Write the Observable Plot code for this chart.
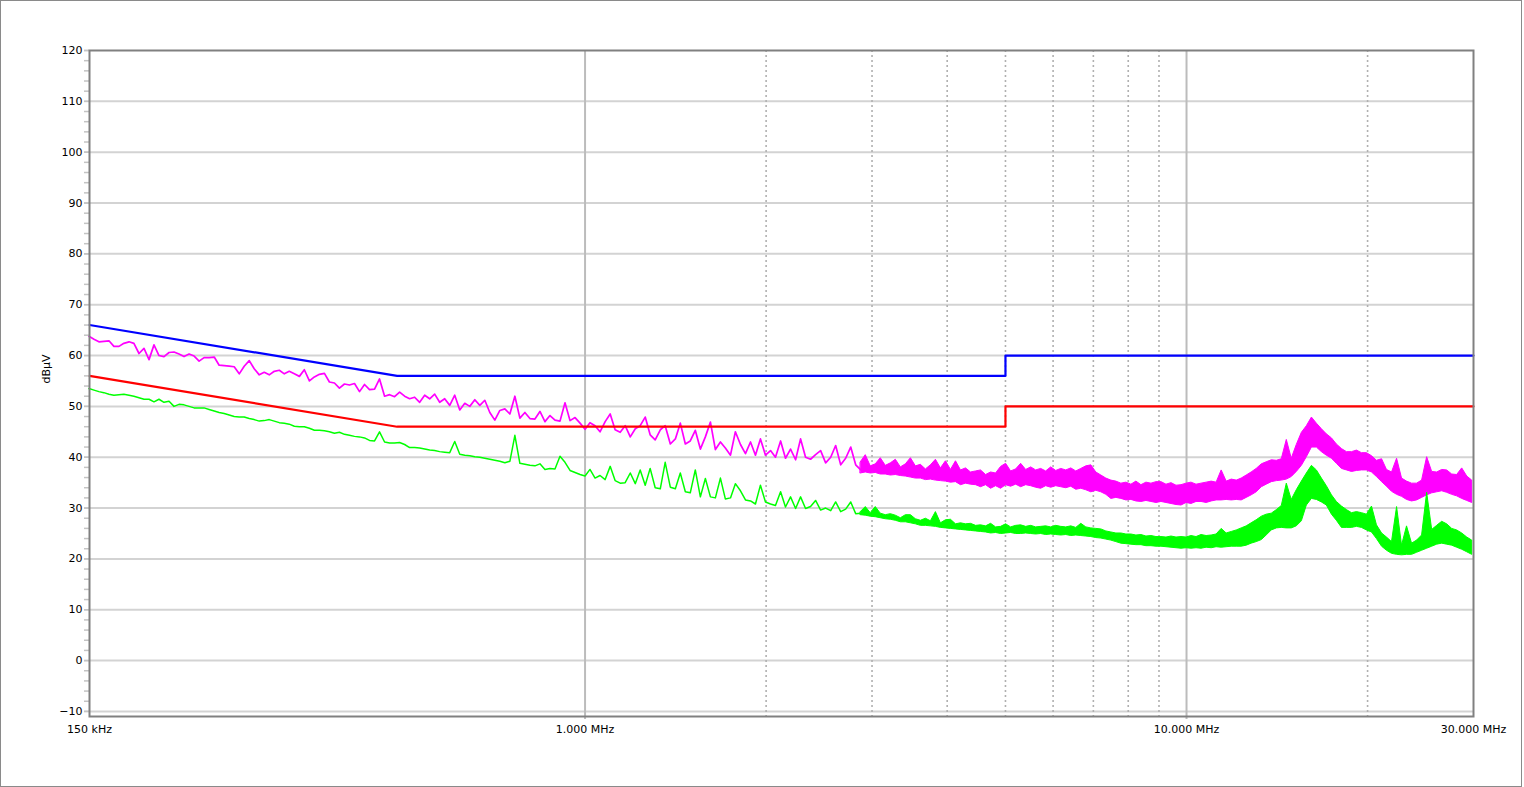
<!DOCTYPE html>
<html><head><meta charset="utf-8">
<script src="https://cdn.jsdelivr.net/npm/d3@7"></script>
<script src="https://cdn.jsdelivr.net/npm/@observablehq/plot@0.6"></script>
<style>
html,body{margin:0;padding:0;background:#fff;overflow:hidden}
#chart{position:relative;width:1524px;height:787px}
#chart svg{display:block}
#chart::after{content:"";position:absolute;left:0;top:0;right:2px;bottom:0;border:1px solid #8a8a8a;pointer-events:none}
</style></head><body><div id="chart"></div>
<script>
// ---- sparse (line) part of the measured traces ----
const lineFreqMHz = [
0.1497,0.1526,0.1555,0.1585,0.1616,0.1647,0.1679,0.1711,0.1745,0.1778,
0.1813,0.1848,0.1884,0.1920,0.1957,0.1995,0.2034,0.2073,0.2113,0.2154,
0.2196,0.2239,0.2282,0.2326,0.2371,0.2418,0.2464,0.2512,0.2561,0.2610,
0.2661,0.2712,0.2765,0.2818,0.2873,0.2928,0.2985,0.3043,0.3102,0.3162,
0.3223,0.3286,0.3350,0.3414,0.3481,0.3548,0.3617,0.3687,0.3758,0.3831,
0.3905,0.3981,0.4058,0.4137,0.4217,0.4299,0.4382,0.4467,0.4553,0.4642,
0.4732,0.4823,0.4917,0.5012,0.5109,0.5208,0.5309,0.5412,0.5517,0.5623,
0.5732,0.5843,0.5957,0.6072,0.6190,0.6310,0.6432,0.6557,0.6684,0.6813,
0.6945,0.7079,0.7217,0.7356,0.7499,0.7644,0.7792,0.7943,0.8097,0.8254,
0.8414,0.8577,0.8743,0.8913,0.9085,0.9261,0.9441,0.9624,0.9810,1.000,
1.019,1.039,1.059,1.080,1.101,1.122,1.144,1.166,1.189,1.212,
1.235,1.259,1.283,1.308,1.334,1.359,1.386,1.413,1.440,1.468,
1.496,1.525,1.555,1.585,1.616,1.647,1.679,1.711,1.745,1.778,
1.813,1.848,1.884,1.920,1.957,1.995,2.034,2.073,2.114,2.154,
2.196,2.239,2.282,2.326,2.371,2.417,2.464,2.512,2.561,2.610,
2.661,2.712,2.765,2.818,2.873];
const peakLine = [
63.8,63.2,62.7,62.8,62.9,61.8,61.8,62.4,62.7,62.4,
60.4,61.4,59.2,62.1,60.0,59.8,60.6,60.7,60.3,59.8,
60.3,59.9,58.9,59.6,59.6,59.7,58.1,58.0,57.9,57.8,
56.4,57.9,59.0,57.4,56.2,56.7,56.2,56.9,57.1,56.4,
56.9,56.4,55.9,57.2,55.0,55.8,56.3,56.5,54.8,54.6,
53.6,54.4,54.2,54.5,52.9,54.3,53.3,53.4,55.4,52.0,
52.3,51.9,52.8,52.0,51.5,51.8,50.8,52.2,51.5,52.4,
50.8,51.5,50.2,52.2,49.3,50.6,50.0,51.3,50.2,51.2,
48.8,47.3,49.2,49.5,48.5,52.0,47.7,48.8,47.6,47.5,
49.0,47.0,48.2,47.3,47.1,50.7,47.2,47.8,46.7,45.5,
46.8,46.2,45.0,47.0,48.5,45.4,44.9,46.2,44.0,45.6,
46.2,47.9,44.4,43.4,45.4,46.2,42.6,43.6,46.7,42.6,
43.2,45.3,41.6,44.0,46.9,41.5,43.0,41.8,40.4,45.0,
42.5,40.7,43.0,40.4,43.6,40.4,41.3,40.0,43.2,39.8,
41.6,39.5,43.6,40.0,39.6,40.5,41.3,38.9,40.0,42.3,
38.5,39.8,42.0,38.5,37.5];
const avgLine = [
53.5,53.2,52.9,52.7,52.4,52.2,52.3,52.4,52.2,52.0,
51.7,51.4,51.4,50.9,51.4,50.8,51.0,50.0,50.4,50.3,
50.0,49.7,49.7,49.7,49.4,49.1,48.8,48.6,48.3,48.0,
47.9,47.9,47.6,47.4,47.1,47.2,47.4,47.1,46.8,46.7,
46.5,46.1,46.0,46.0,45.7,45.3,45.3,45.2,45.0,44.7,
44.9,44.5,44.3,44.1,44.0,43.8,43.3,43.2,45.0,43.0,
42.8,42.8,42.9,42.5,41.9,41.9,41.8,41.6,41.4,41.3,
41.1,41.0,40.9,43.1,40.6,40.4,40.3,40.1,40.0,39.8,
39.6,39.4,39.2,38.9,39.2,44.3,38.8,38.6,38.4,38.3,
38.7,37.6,37.8,37.7,40.2,39.0,37.4,37.0,36.6,36.3,
37.6,35.9,36.4,35.6,38.2,35.4,34.9,35.0,36.9,34.8,
37.5,34.5,37.8,34.0,33.8,39.0,34.1,33.8,36.9,33.2,
33.0,37.5,32.2,35.8,32.2,32.0,35.9,31.8,32.0,34.8,
33.4,31.6,31.4,30.8,34.5,31.2,30.8,30.5,33.2,30.2,
32.2,29.9,32.2,29.9,30.3,31.5,29.6,30.0,29.5,31.2,
29.3,29.8,31.2,28.9,29.0];

// ---- dense (band) part of the measured traces: lower / upper envelope ----
const bandFreqMHz = [
2.873,2.929,2.985,3.043,3.102,3.162,3.224,3.286,3.350,3.415,
3.481,3.548,3.617,3.687,3.758,3.831,3.905,3.981,4.058,4.137,
4.217,4.299,4.382,4.467,
4.553,4.642,4.732,4.823,4.917,5.012,5.109,5.208,5.309,5.412,
5.517,5.623,5.732,5.843,5.957,6.072,6.190,6.310,6.432,6.557,
6.684,6.813,6.945,7.079,7.217,7.356,7.499,7.644,7.792,7.943,
8.097,8.254,8.414,8.577,8.743,8.913,9.085,9.261,9.441,9.624,
9.810,10.00,10.19,10.39,10.59,10.80,11.01,11.22,11.44,11.66,
11.89,12.12,12.35,12.59,12.83,13.08,13.34,13.59,13.86,14.13,
14.40,14.68,14.96,15.25,15.55,15.85,16.16,16.47,16.79,17.11,
17.45,17.78,18.13,18.48,18.84,19.20,19.57,19.95,20.34,20.73,
21.14,21.54,21.96,22.39,22.82,23.26,23.71,24.17,24.64,25.12,
25.61,26.10,26.61,27.12,27.65,28.18,28.73,29.29,29.85];
const peakLo = [
36.8,37.0,36.8,36.9,36.6,36.6,36.4,36.5,36.3,36.2,
36.0,35.8,35.8,35.5,35.6,35.4,35.3,35.2,35.0,35.1,
34.5,34.8,34.6,34.5,
34.1,34.5,33.8,34.3,33.8,34.5,34.2,34.6,34.1,34.5,
34.3,34.0,33.8,34.3,34.0,34.3,34.1,33.9,34.2,33.6,
33.8,33.5,33.1,33.4,33.1,32.6,31.8,32.0,31.8,31.5,
31.6,31.3,31.2,31.4,31.2,31.0,31.2,31.0,30.8,30.6,
30.5,31.0,30.8,31.2,31.2,31.0,31.3,31.5,31.5,31.6,
31.5,31.6,31.5,32.0,32.5,33.1,34.1,34.6,35.1,35.3,
35.4,35.6,36.1,37.1,38.3,40.0,41.9,41.9,41.0,40.3,
39.7,38.7,37.7,37.4,37.1,37.3,37.4,37.4,37.0,36.1,
35.1,34.2,33.2,32.6,32.2,31.6,31.3,31.5,32.0,32.5,
32.9,33.1,33.3,33.0,32.6,32.3,31.8,31.4,31.0];
const peakHi = [
39.0,40.4,38.2,38.6,39.8,38.3,38.8,39.5,38.0,38.6,
39.8,38.2,38.5,37.6,38.4,39.5,37.8,39.2,37.5,39.2,
37.4,37.8,37.0,37.2,
37.4,36.5,37.0,36.8,38.1,38.7,37.2,37.6,38.7,37.5,
38.0,37.4,37.7,37.2,38.0,37.3,37.7,37.4,37.8,37.2,
37.7,38.2,38.4,37.0,36.4,35.8,35.4,35.2,34.8,35.0,
34.6,35.2,34.5,35.0,34.8,35.1,35.1,34.6,34.9,34.4,
34.5,34.8,35.0,34.6,34.8,35.0,35.2,35.0,37.4,35.2,
35.6,35.4,35.8,36.4,37.0,37.7,38.6,39.0,39.4,39.3,
39.6,43.4,39.7,42.4,44.8,46.1,47.8,46.6,45.5,44.5,
43.7,42.5,41.6,41.0,41.0,41.3,40.8,40.8,40.2,39.3,
39.6,37.5,37.0,39.7,35.8,35.2,34.8,34.8,35.4,40.0,
37.1,37.0,37.5,37.4,36.6,36.5,37.8,36.2,35.4];
const avgLo = [
28.6,28.5,28.3,28.2,28.0,27.8,27.7,27.5,27.2,27.2,
27.0,26.8,26.5,26.5,26.4,26.3,26.1,26.0,25.9,25.8,
25.7,25.6,25.5,25.4,
25.3,25.2,25.0,25.1,24.9,25.0,25.1,24.9,24.9,25.0,
24.9,24.8,24.9,24.7,24.8,24.7,24.6,24.7,24.5,24.6,
24.5,24.4,24.3,24.1,24.0,23.8,23.6,23.3,23.0,22.9,
22.8,22.7,22.7,22.5,22.5,22.4,22.4,22.3,22.2,22.1,
22.0,22.1,22.0,22.1,22.0,22.2,22.1,22.3,22.2,22.3,
22.4,22.4,22.4,22.6,23.0,23.3,23.7,24.6,25.6,26.0,
26.1,26.0,26.0,26.4,27.4,30.5,31.8,31.6,31.1,30.5,
28.7,27.5,26.1,26.1,26.1,26.3,26.1,25.6,25.2,23.9,
22.4,21.6,21.0,20.8,20.7,20.8,20.8,21.2,21.6,22.0,
22.4,22.8,23.0,22.8,22.6,22.2,21.8,21.3,20.8];
const avgHi = [
29.2,30.2,29.0,30.2,28.9,28.6,28.8,28.5,28.0,28.6,
28.6,27.8,27.5,27.9,27.4,29.2,27.0,27.6,27.7,26.8,
27.0,26.8,26.9,26.5,
26.6,26.4,26.9,26.2,26.3,26.8,26.2,26.5,26.6,26.3,
26.5,26.2,26.3,26.4,26.2,26.5,26.3,26.2,26.4,26.1,
26.9,26.2,26.0,25.9,25.8,25.4,25.2,25.0,25.0,24.8,
24.8,24.6,24.7,24.4,24.5,24.3,24.3,24.2,24.4,24.2,
24.3,24.2,24.5,24.3,24.7,24.5,24.6,24.8,25.9,25.0,
25.3,25.6,26.0,26.4,27.0,27.6,28.3,28.7,28.9,29.6,
30.4,34.8,31.6,33.5,35.2,36.8,38.3,37.4,35.8,34.3,
32.5,31.2,30.3,29.6,29.0,29.2,29.0,28.7,30.3,26.6,
25.0,24.2,23.3,30.2,22.6,26.4,23.0,23.6,24.6,33.0,
25.7,26.5,27.3,26.8,25.9,25.6,25.0,24.2,23.6];

// ---- limit lines ----
const limitFreqMHz = [0.15, 0.487, 5, 5, 30];
const qpLimitDb = [66, 56, 56, 60, 60];
const avLimitDb = [56, 46, 46, 50, 50];

// ---- axes ----
const xTickMHz = [0.15, 1, 10, 30];
const xTickLabels = ["150 kHz", "1.000 MHz", "10.000 MHz", "30.000 MHz"];
const solidGridMHz = [1, 10];
const dottedGridMHz = [2, 3, 4, 5, 6, 7, 8, 9, 20];
const yMajorTicks = [-10, 0, 10, 20, 30, 40, 50, 60, 70, 80, 90, 100, 110, 120];
const yGridDb = [-10, 0, 10, 20, 30, 40, 50, 60, 70, 80, 90, 100, 110];
const yMinorTicks = d3.range(-10, 121, 2);
const yTitle = "dBµV";

const lineRows = lineFreqMHz.map((f, i) => ({f, peak: peakLine[i], avg: avgLine[i]}));
const bandRows = bandFreqMHz.map((f, i) => ({f, pLo: peakLo[i], pHi: peakHi[i], aLo: avgLo[i], aHi: avgHi[i]}));
const limitRows = limitFreqMHz.map((f, i) => ({f, qp: qpLimitDb[i], av: avLimitDb[i]}));

const chart = Plot.plot({
  width: 1524,
  height: 787,
  marginLeft: 89,
  marginRight: 51,
  marginTop: 50,
  marginBottom: 71,
  style: {fontFamily: "'DejaVu Sans', Verdana, sans-serif", fontSize: "11px", background: "#fff", color: "#000"},
  x: {type: "log", domain: [0.15, 30]},
  y: {domain: [-11, 120]},
  marks: [
    Plot.ruleY(yGridDb, {stroke: "#d3d3d3", strokeWidth: 2}),
    Plot.ruleX(dottedGridMHz, {stroke: "#b0b0b0", strokeWidth: 1.6, strokeDasharray: "2,3", insetBottom: -3}),
    Plot.ruleX(solidGridMHz, {stroke: "#bcbcbc", strokeWidth: 2, insetBottom: -3}),
    Plot.areaY(bandRows, {x: "f", y1: "pLo", y2: "pHi", fill: "#ff00ff", stroke: "#ff00ff", strokeWidth: 1}),
    Plot.line(lineRows, {x: "f", y: "peak", stroke: "#ff00ff", strokeWidth: 1.7}),
    Plot.areaY(bandRows, {x: "f", y1: "aLo", y2: "aHi", fill: "#00ff00", stroke: "#00ff00", strokeWidth: 1}),
    Plot.line(lineRows, {x: "f", y: "avg", stroke: "#00ff00", strokeWidth: 1.5}),
    Plot.line(limitRows, {x: "f", y: "qp", stroke: "#0000ff", strokeWidth: 2.2}),
    Plot.line(limitRows, {x: "f", y: "av", stroke: "#ff0000", strokeWidth: 2.2}),
    Plot.axisY({ticks: yMinorTicks, tickSize: 5, tickFormat: () => "", stroke: "#c4c4c4", strokeWidth: 1.5, label: null}),
    Plot.axisY({ticks: yMajorTicks, tickSize: 5, tickPadding: 2, stroke: "#c4c4c4", strokeWidth: 1.5, fill: "#000", label: null}),
    Plot.axisX({ticks: xTickMHz, tickSize: 0, tickPadding: 9, fill: "#000", label: null,
      tickFormat: d => xTickLabels[xTickMHz.indexOf(d)]}),
    Plot.text([yTitle], {frameAnchor: "left", rotate: -90, dx: -43, text: d => d, fill: "#000"}),
    Plot.frame({stroke: "#808080", strokeWidth: 2})
  ]
});
document.getElementById("chart").appendChild(chart);
</script>
</body></html>
